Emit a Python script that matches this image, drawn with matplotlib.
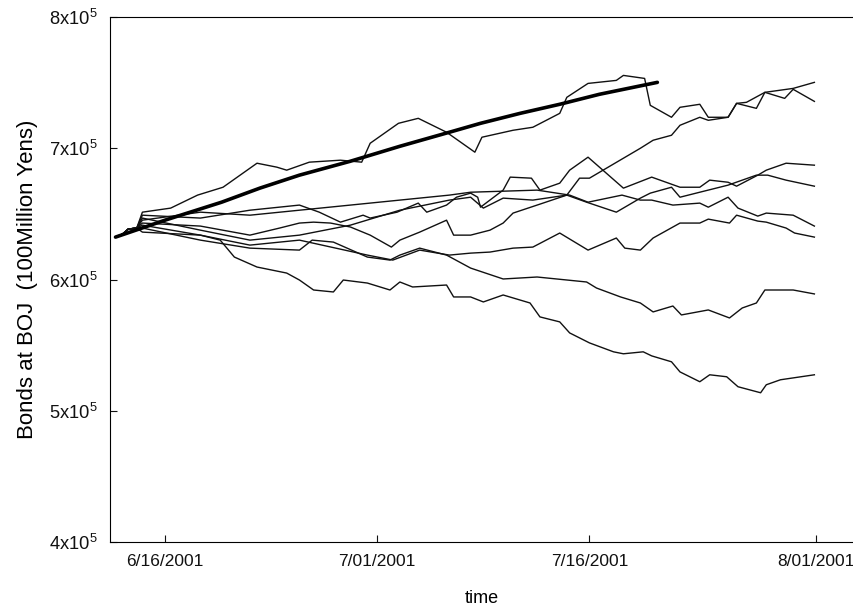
import numpy as np
import matplotlib
matplotlib.use("Agg")
import matplotlib.pyplot as plt
import matplotlib.dates as mdates
from matplotlib.ticker import FixedLocator, FuncFormatter

plt.rcParams['font.family'] = ['Liberation Sans', 'DejaVu Sans']
plt.rcParams['mathtext.default'] = 'regular'

# day offsets from 2001-06-12 and values (thousands of 100 million yen)
start_d = [0.5, 1.0, 1.4, 2.0]
start_v = [632.3, 634.6, 638.4, 639.2]

trend_d = [0.5, 4.0, 8.0, 10.7, 13.5, 17.1, 20.6, 24.1, 26.3, 29.1, 31.9, 34.7, 38.8]
trend_v = [632.3, 645.2, 658.9, 669.6, 679.5, 690.1, 701.5, 712.2, 719.0, 726.6, 733.5, 741.1, 750.2]

a_d = [2.4, 6.5, 10.0, 12.1, 13.5, 14.5, 15.7, 17.1, 18.5, 20.0, 20.6, 22.0, 23.9, 24.4, 25.6, 26.97, 27.9, 28.6, 30.3, 32.4, 33.3, 34.0, 37.6, 38.5, 39.8, 40.4, 41.8, 42.4, 43.8, 44.4, 45.1, 46.4, 48.4, 49.9]
a_v = [643.0, 640.7, 633.8, 639.2, 643.0, 643.7, 643.0, 640.0, 633.8, 624.7, 630.0, 636.1, 645.2, 633.8, 633.8, 637.6, 643.0, 650.6, 656.7, 664.3, 677.2, 677.2, 700.0, 706.1, 709.9, 717.5, 723.6, 721.3, 723.6, 734.2, 735.0, 742.6, 745.6, 750.2]

b_d = [2.4, 4.4, 6.3, 8.1, 10.5, 11.9, 12.6, 14.2, 16.4, 17.9, 18.5, 20.5, 21.9, 23.9, 25.9, 26.4, 28.6, 30.0, 31.9, 32.4, 33.9, 35.9, 36.4, 37.9, 38.3, 39.8, 40.4, 41.8, 42.4, 43.8, 44.4, 45.8, 46.4, 47.8, 48.4, 49.9]
b_v = [651.3, 654.4, 664.3, 670.3, 688.6, 685.6, 683.3, 689.4, 690.9, 689.4, 703.8, 719.0, 722.8, 712.2, 697.0, 708.4, 713.7, 716.0, 726.6, 738.8, 749.4, 751.7, 755.5, 753.2, 732.7, 723.6, 731.2, 733.5, 723.6, 723.6, 734.2, 730.4, 742.6, 738.0, 744.9, 735.7]

c_d = [2.4, 6.5, 10.0, 13.5, 14.9, 16.4, 18.0, 18.5, 20.4, 21.9, 22.5, 23.9, 24.6, 25.6, 26.1, 26.3, 27.9, 28.4, 29.9, 30.5, 31.9, 32.6, 33.9, 36.4, 38.4, 40.4, 41.8, 42.5, 43.8, 44.4, 45.9, 46.5, 47.9, 49.9]
c_v = [649.0, 646.8, 652.8, 656.7, 651.3, 643.7, 649.0, 646.8, 651.3, 658.2, 651.3, 656.7, 662.7, 665.8, 662.7, 655.1, 668.1, 678.0, 677.2, 668.1, 673.4, 683.3, 693.2, 669.6, 678.0, 670.3, 670.3, 675.7, 674.1, 671.1, 679.5, 683.3, 688.6, 687.1]

d_d = [2.4, 6.5, 10.0, 13.5, 17.1, 20.6, 24.1, 25.6, 26.5, 27.9, 30.0, 32.4, 33.8, 35.9, 37.6, 38.3, 39.8, 40.4, 41.8, 43.8, 45.8, 46.6, 47.9, 49.9]
d_v = [646.8, 637.6, 630.0, 633.8, 641.4, 652.8, 660.5, 662.7, 654.4, 662.0, 660.5, 664.3, 658.9, 651.3, 662.0, 665.8, 670.3, 662.7, 666.5, 671.9, 679.5, 679.5, 675.7, 671.1]

e_d = [2.4, 6.5, 10.0, 13.5, 17.1, 20.6, 24.1, 25.6, 30.3, 32.6, 33.9, 36.3, 37.6, 38.4, 39.9, 41.8, 42.4, 43.8, 44.5, 45.9, 46.5, 48.4, 49.9]
e_v = [645.2, 651.3, 649.0, 652.8, 656.7, 660.5, 664.3, 666.5, 668.1, 664.3, 658.9, 664.3, 660.5, 660.5, 656.7, 658.2, 655.1, 662.7, 654.4, 648.3, 650.6, 649.0, 640.7]

f_d = [2.4, 6.5, 10.0, 13.5, 18.3, 20.1, 22.0, 24.1, 25.6, 26.97, 28.6, 30.0, 31.9, 33.9, 35.9, 36.5, 37.6, 38.5, 40.4, 41.8, 42.4, 43.9, 44.4, 45.9, 46.5, 47.9, 48.5, 49.9]
f_v = [641.4, 633.8, 626.2, 630.0, 618.6, 614.8, 622.4, 618.6, 620.1, 620.9, 623.9, 624.7, 635.4, 622.4, 631.6, 623.9, 622.4, 631.6, 643.0, 643.0, 646.0, 643.0, 649.0, 644.5, 643.7, 639.2, 635.4, 632.3]

g_d = [2.4, 6.5, 10.0, 13.5, 14.4, 15.9, 18.3, 19.9, 20.6, 22.0, 23.9, 25.6, 27.9, 30.3, 33.8, 34.5, 36.2, 37.6, 38.5, 39.9, 40.5, 42.4, 43.9, 44.8, 45.8, 46.4, 48.4, 49.9]
g_v = [639.2, 630.0, 623.9, 622.4, 630.0, 628.5, 617.1, 614.8, 618.6, 623.9, 618.6, 608.7, 600.4, 601.9, 598.1, 593.5, 586.7, 582.1, 575.3, 579.8, 573.0, 576.8, 570.7, 578.3, 582.1, 592.0, 592.0, 589.0]

h_d = [2.4, 6.5, 7.9, 8.9, 10.5, 12.6, 13.5, 14.5, 15.9, 16.6, 18.3, 19.9, 20.6, 21.5, 23.9, 24.4, 25.6, 26.5, 27.9, 29.8, 30.5, 31.9, 32.6, 33.3, 34.0, 35.7, 36.4, 37.8, 38.4, 39.8, 40.4, 41.8, 42.5, 43.7, 44.5, 46.1, 46.5, 47.5, 49.9]
h_v = [636.1, 633.8, 630.0, 617.1, 609.5, 604.9, 599.6, 592.0, 590.5, 599.6, 597.3, 592.0, 598.1, 594.3, 595.8, 586.7, 586.7, 582.9, 588.2, 582.1, 571.5, 567.7, 559.3, 555.5, 551.7, 544.9, 543.4, 544.9, 541.8, 537.3, 529.6, 522.1, 527.4, 525.9, 518.3, 513.7, 519.8, 523.6, 527.4]

thin_series = [(a_d, a_v), (b_d, b_v), (c_d, c_v), (d_d, d_v), (e_d, e_v),
               (f_d, f_v), (g_d, g_v), (h_d, h_v)]

tick_dates = ['2001-06-16', '2001-07-01', '2001-07-16', '2001-08-01']
y_ticks = [4e5, 5e5, 6e5, 7e5, 8e5]

base = mdates.date2num(np.datetime64('2001-06-12'))

def to_x(d):
    return base + np.asarray(d, dtype=float)

fig = plt.figure(figsize=(8.54, 6.09), dpi=100)
ax = fig.add_axes([110/854, 67/609, 1 - 110/854, (542-17)/609])

for dd, vv in thin_series:
    x = to_x(start_d + list(dd))
    y = np.array(start_v + list(vv)) * 1000
    ax.plot(x, y, color='#111111', lw=1.0, solid_joinstyle='round')

ax.plot(to_x(trend_d), np.array(trend_v) * 1000, color='#000000', lw=2.6,
        solid_capstyle='round')

ax.set_ylim(4e5, 8e5)
ax.set_xlim(base + 0.11, base + 52.7)
ax.yaxis.set_major_locator(FixedLocator(y_ticks))
ax.yaxis.set_major_formatter(FuncFormatter(lambda v, p: f"{int(round(v/1e5))}x10$^5$"))
ax.xaxis.set_major_locator(FixedLocator([mdates.date2num(np.datetime64(t)) for t in tick_dates]))
ax.xaxis.set_major_formatter(mdates.DateFormatter('%-m/%d/%Y'))

ax.tick_params(direction='in', length=5, width=0.8, labelsize=12.5, pad=9, colors='#111111')
ax.tick_params(axis='y', labelsize=13.2)
ax.spines['right'].set_visible(False)
for s in ['left', 'top', 'bottom']:
    ax.spines[s].set_linewidth(0.8)

ax.set_xlabel('time', fontsize=13, labelpad=15)
ax.set_ylabel('Bonds at BOJ  (100Million Yens)', fontsize=16, labelpad=8)

fig.savefig('out.png', dpi=100)
